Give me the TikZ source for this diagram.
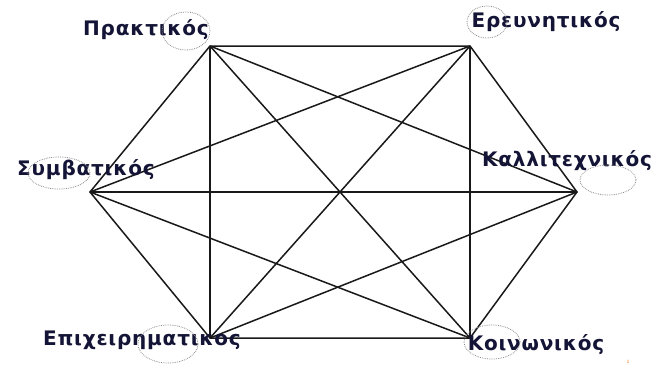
\documentclass[tikz,border=0pt]{standalone}
\usepackage{fontspec}
\newfontfamily\lblfont[LetterSpace=4,BoldFont={DejaVu Sans Bold}]{DejaVu Sans}
\usepackage{tikz}
\usetikzlibrary{shapes,positioning}
\definecolor{lblnavy}{RGB}{20,20,55}
\definecolor{ringgray}{RGB}{140,140,140}

\begin{document}
\begin{tikzpicture}[
            x=1pt, y=-1pt,
            edge/.style={draw=black!90, line width=1.5pt},
            lbl/.style={font=\lblfont\bfseries\fontsize{20}{22}\selectfont, text=lblnavy, inner sep=0pt},
            ring/.style={draw=ringgray, densely dotted, line width=0.8pt, ellipse, inner sep=0pt}
        ]
            \useasboundingbox (0,0) rectangle (655,370);
            % vertices of the hexagon
            \coordinate (prakt) at (210,46);
            \coordinate (ereun) at (470,46);
            \coordinate (symv) at (90,192);
            \coordinate (kall) at (577,192);
            \coordinate (epix) at (210,338);
            \coordinate (koin) at (470,338);

            % every type is joined to every other type
            \draw[edge] (prakt) -- (ereun) -- (kall) -- (koin) -- (epix) -- (symv) -- cycle;
            \draw[edge] (prakt) -- (epix);
            \draw[edge] (ereun) -- (koin);
            \draw[edge] (prakt) -- (koin);
            \draw[edge] (ereun) -- (epix);
            \draw[edge] (symv) -- (kall);
            \draw[edge] (prakt) -- (kall);
            \draw[edge] (symv) -- (ereun);
            \draw[edge] (symv) -- (koin);
            \draw[edge] (epix) -- (kall);

            % labels
            \node[lbl] (lprakt) at (146,30) {Πρακτικός};
            \node[lbl] (lereun) at (546,22) {Ερευνητικός};
            \node[lbl] (lsymv) at (86,170) {Συμβατικός};
            \node[lbl] (lkall) at (567,161) {Καλλιτεχνικός};
            \node[lbl] (lepix) at (142,340) {Επιχειρηματικος};
            \node[lbl] (lkoin) at (536,345) {Κοινωνικός};

            % dotted rings
            \node[ring, minimum width=48pt, minimum height=38pt] (rprakt) at (186,31) {};
            \node[ring, minimum width=40pt, minimum height=32pt] (rereun) at (487,22) {};
            \node[ring, minimum width=62pt, minimum height=32pt] (rsymv) at (59,173) {};
            \node[ring, minimum width=56pt, minimum height=30pt] (rkall) at (608,180) {};
            \node[ring, minimum width=60pt, minimum height=38pt] (repix) at (168,344) {};
            \node[ring, minimum width=56pt, minimum height=34pt] (rkoin) at (492,342) {};

            \node[font=\fontsize{5}{6}\selectfont, text=orange!80!red, inner sep=0pt] (pagenum) at (628,362) {1};
        \end{tikzpicture}
\end{document}
